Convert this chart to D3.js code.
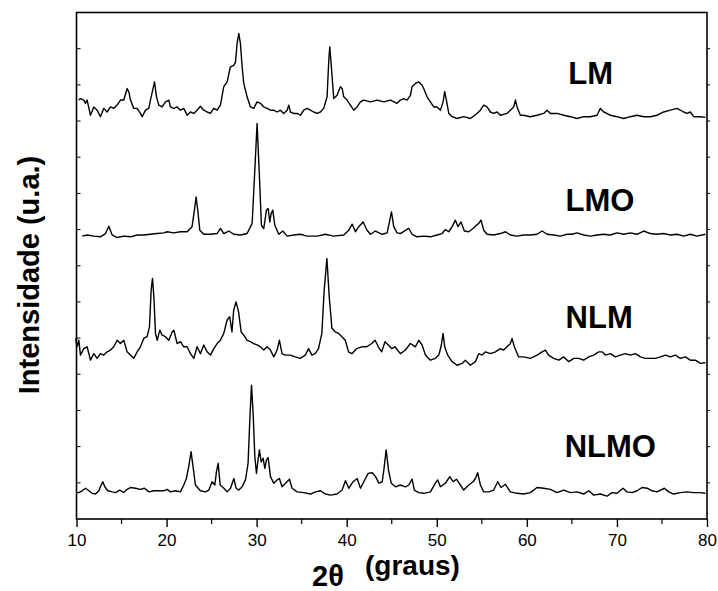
<!DOCTYPE html>
<html>
<head>
<meta charset="utf-8">
<script src="https://cdn.jsdelivr.net/npm/d3@7.9.0/dist/d3.min.js"></script>
<style>
  body { margin: 0; background: #fff; }
  svg { display: block; font-family: Arial, "Liberation Sans", sans-serif; }
</style>
</head>
<body>
<svg id="chart" width="718" height="591"></svg>
<script>
// XRD patterns, 2theta (graus) vs intensity (u.a.), traces already stacked
const sampleNames = ["LM", "LMO", "NLM", "NLMO"];
const xTicks = [10, 20, 30, 40, 50, 60, 70, 80];

const lmData = [
  [10.26,11.58],[10.44,11.62],[10.81,11.58],[11.0,11.49],[11.18,11.58],[11.55,11.16],[11.92,11.39],
  [12.29,11.30],[12.66,11.12],[13.03,11.35],[13.40,11.25],[13.77,11.39],[14.14,11.35],[14.51,11.44],
  [14.88,11.58],[15.25,11.58],[15.62,11.90],[15.81,11.81],[15.99,11.58],[16.36,11.35],[16.73,11.35],
  [17.10,11.21],[17.29,11.12],[17.66,11.30],[18.03,11.35],[18.21,11.58],[18.66,12.08],[18.88,11.67],
  [19.14,11.44],[19.51,11.39],[19.88,11.53],[20.25,11.58],[20.43,11.39],[20.80,11.35],[21.17,11.39],
  [21.54,11.30],[21.91,11.35],[22.28,11.16],[22.65,11.25],[23.02,11.21],[23.39,11.30],[23.76,11.41],
  [24.13,11.30],[24.50,11.25],[24.87,11.21],[25.24,11.35],[25.61,11.30],[25.98,11.44],[26.35,11.95],
  [26.72,12.08],[27.09,12.50],[27.46,12.54],[27.65,12.63],[27.83,13.14],[28.02,13.42],[28.20,13.14],
  [28.39,12.50],[28.57,12.04],[28.94,11.67],[29.31,11.39],[29.68,11.35],[30.05,11.53],[30.42,11.49],
  [30.79,11.39],[31.16,11.35],[31.53,11.30],[31.90,11.30],[32.27,11.25],[32.64,11.30],[33.01,11.21],
  [33.38,11.30],[33.57,11.44],[33.75,11.25],[34.12,11.21],[34.49,11.21],[34.86,11.16],[35.23,11.30],
  [35.60,11.35],[35.97,11.30],[36.34,11.25],[36.71,11.21],[37.08,11.25],[37.45,11.35],[37.82,11.67],
  [38.01,12.68],[38.12,13.05],[38.27,12.59],[38.56,11.62],[38.93,11.71],[39.30,11.95],[39.49,11.90],
  [39.67,11.67],[40.04,11.58],[40.41,11.44],[40.78,11.30],[41.15,11.39],[41.52,11.53],[41.89,11.58],
  [42.63,11.53],[43.37,11.58],[44.11,11.53],[44.86,11.58],[45.59,11.49],[45.96,11.58],[46.33,11.62],
  [46.70,11.58],[47.07,11.71],[47.26,11.95],[47.63,12.04],[48.00,12.08],[48.37,11.99],[48.55,11.90],
  [48.92,11.67],[49.29,11.53],[49.66,11.39],[50.03,11.39],[50.40,11.30],[50.70,11.53],[50.88,11.81],
  [51.07,11.58],[51.33,11.21],[51.70,11.12],[52.25,11.07],[52.99,11.12],[53.73,11.07],[54.47,11.21],
  [54.84,11.30],[55.21,11.44],[55.58,11.39],[55.95,11.25],[56.32,11.21],[56.69,11.25],[57.06,11.16],
  [57.80,11.21],[58.17,11.30],[58.54,11.39],[58.73,11.58],[58.91,11.39],[59.28,11.16],[59.65,11.16],
  [60.39,11.12],[61.13,11.16],[61.87,11.21],[62.24,11.30],[62.61,11.21],[63.35,11.21],[64.09,11.16],
  [64.83,11.12],[65.57,11.07],[66.31,11.12],[67.05,11.12],[67.79,11.16],[68.16,11.35],[68.53,11.25],
  [69.27,11.16],[70.01,11.12],[70.75,11.07],[71.49,11.12],[72.23,11.16],[72.97,11.12],[73.71,11.12],
  [74.45,11.16],[75.19,11.25],[75.93,11.30],[76.67,11.35],[77.41,11.25],[77.78,11.21],[78.15,11.25],
  [78.52,11.12],[79.26,11.12],[79.82,11.10]
];

const lmoData = [
  [10.63,7.82],[11.18,7.85],[11.92,7.82],[12.66,7.80],[13.22,7.89],[13.59,8.09],[13.96,7.85],
  [14.51,7.78],[15.25,7.82],[15.99,7.80],[16.73,7.85],[17.47,7.85],[18.21,7.87],[18.95,7.89],
  [19.69,7.91],[20.06,7.94],[20.80,7.91],[21.54,7.94],[22.28,7.94],[22.83,8.08],[23.09,8.54],
  [23.28,8.90],[23.46,8.54],[23.69,7.98],[24.13,7.87],[24.87,7.87],[25.61,7.89],[25.98,8.03],
  [26.35,7.89],[26.91,7.96],[27.46,7.87],[28.21,7.85],[28.94,7.89],[29.50,8.17],[29.76,9.46],
  [30.05,10.93],[30.31,9.46],[30.53,8.12],[30.79,8.03],[31.09,8.54],[31.28,8.58],[31.46,8.21],
  [31.61,8.44],[31.79,8.54],[32.02,8.12],[32.46,7.87],[32.90,7.96],[33.38,7.82],[34.12,7.85],
  [34.86,7.87],[35.60,7.82],[36.71,7.82],[37.63,7.87],[38.56,7.82],[39.67,7.85],[40.22,7.98],
  [40.60,8.15],[40.97,7.94],[41.34,8.08],[41.82,8.21],[42.26,7.98],[42.63,7.87],[43.19,7.96],
  [43.93,7.87],[44.49,7.91],[44.78,8.26],[44.97,8.49],[45.22,8.08],[45.59,7.91],[45.96,7.89],
  [46.52,7.98],[46.89,8.03],[47.26,7.87],[47.81,7.80],[48.55,7.82],[49.29,7.80],[50.03,7.85],
  [50.59,7.89],[50.96,8.00],[51.33,7.94],[51.70,8.08],[52.07,8.26],[52.36,8.08],[52.69,8.21],
  [53.06,7.96],[53.55,7.94],[54.03,8.03],[54.40,8.12],[54.66,8.17],[54.91,8.26],[55.21,7.98],
  [55.58,7.87],[56.32,7.85],[57.06,7.89],[57.62,7.94],[58.17,7.85],[58.91,7.82],[59.65,7.85],
  [60.39,7.85],[61.13,7.87],[61.69,7.96],[62.24,7.87],[62.98,7.85],[63.72,7.82],[64.46,7.87],
  [65.02,7.87],[65.57,7.91],[66.31,7.85],[67.05,7.82],[67.79,7.85],[68.53,7.87],[69.27,7.85],
  [70.01,7.91],[70.75,7.87],[71.49,7.91],[72.23,7.87],[72.97,7.96],[73.71,7.89],[74.45,7.87],
  [75.19,7.89],[75.93,7.85],[76.67,7.87],[77.41,7.82],[78.15,7.87],[78.89,7.82],[79.82,7.87]
];

const nlmData = [
  [9.90,4.99],[10.07,4.76],[10.26,4.94],[10.44,4.53],[10.81,4.71],[11.18,4.76],[11.55,4.39],
  [11.92,4.57],[12.29,4.44],[12.66,4.57],[13.03,4.53],[13.40,4.62],[13.77,4.67],[14.14,4.76],
  [14.51,4.94],[14.88,4.85],[15.25,4.94],[15.62,4.62],[15.99,4.53],[16.36,4.44],[16.73,4.62],
  [17.10,4.76],[17.47,4.99],[17.84,5.04],[18.10,5.31],[18.29,6.33],[18.44,6.65],[18.59,6.14],
  [18.77,5.13],[18.96,4.94],[19.25,5.22],[19.51,5.08],[19.88,5.04],[20.25,4.94],[20.62,5.17],
  [20.81,5.22],[21.17,4.85],[21.54,4.90],[21.91,4.76],[22.28,4.76],[22.65,4.57],[23.02,4.44],
  [23.39,4.76],[23.76,4.57],[24.13,4.81],[24.50,4.62],[24.87,4.53],[25.24,4.71],[25.61,4.85],
  [25.98,4.94],[26.35,5.13],[26.72,5.50],[27.01,5.59],[27.26,5.17],[27.45,5.77],[27.71,6.00],
  [28.00,5.72],[28.28,5.17],[28.57,5.08],[28.94,4.94],[29.31,4.90],[29.68,4.85],[30.05,4.81],
  [30.42,4.76],[30.79,4.67],[31.16,4.76],[31.53,4.67],[31.90,4.48],[32.27,4.67],[32.53,4.94],
  [32.82,4.57],[33.18,4.53],[33.73,4.53],[34.29,4.48],[34.84,4.44],[35.40,4.53],[35.77,4.71],
  [36.13,4.53],[36.50,4.57],[36.87,4.71],[37.24,5.13],[37.50,6.33],[37.80,7.20],[38.06,6.14],
  [38.36,5.27],[38.73,5.17],[39.10,5.13],[39.47,5.04],[39.84,4.94],[40.20,4.62],[40.57,4.57],
  [41.12,4.71],[41.67,4.76],[42.23,4.76],[42.78,4.85],[43.15,4.94],[43.51,4.76],[43.88,4.62],
  [44.25,4.90],[44.62,4.81],[44.99,4.71],[45.36,4.76],[45.96,4.57],[46.52,4.67],[47.07,4.85],
  [47.63,4.76],[48.00,4.94],[48.37,4.81],[48.74,4.53],[49.29,4.39],[49.85,4.44],[50.22,4.53],
  [50.47,4.76],[50.70,5.13],[50.88,4.76],[51.21,4.53],[51.70,4.35],[52.25,4.25],[52.81,4.30],
  [53.17,4.39],[53.73,4.25],[54.29,4.35],[54.66,4.57],[55.02,4.53],[55.40,4.62],[55.95,4.57],
  [56.51,4.62],[57.06,4.71],[57.43,4.67],[57.80,4.76],[58.17,4.85],[58.36,4.99],[58.61,4.76],
  [59.09,4.48],[59.65,4.48],[60.39,4.44],[61.13,4.53],[61.69,4.62],[62.06,4.67],[62.42,4.53],
  [62.98,4.44],[63.54,4.39],[64.09,4.48],[64.65,4.35],[65.21,4.44],[65.76,4.44],[66.31,4.39],
  [66.87,4.48],[67.42,4.53],[67.98,4.62],[68.35,4.62],[68.72,4.53],[69.27,4.57],[69.83,4.48],
  [70.38,4.53],[70.94,4.57],[71.49,4.53],[72.05,4.57],[72.60,4.48],[73.16,4.44],[73.71,4.44],
  [74.27,4.44],[74.82,4.48],[75.38,4.53],[75.93,4.48],[76.49,4.53],[77.04,4.44],[77.59,4.48],
  [78.15,4.39],[78.71,4.39],[79.26,4.30],[79.82,4.32]
];

const nlmoData = [
  [10.00,0.73],[10.26,0.73],[10.63,0.78],[11.00,0.85],[11.37,0.78],[11.74,0.71],[12.11,0.69],
  [12.48,0.78],[12.74,0.94],[12.92,1.03],[13.14,0.89],[13.48,0.78],[13.96,0.75],[14.33,0.73],
  [14.81,0.80],[15.25,0.73],[15.62,0.82],[15.99,0.87],[16.55,0.85],[17.10,0.82],[17.55,0.85],
  [18.03,0.75],[18.58,0.78],[19.14,0.78],[19.69,0.78],[20.06,0.82],[20.43,0.75],[20.99,0.78],
  [21.54,0.75],[21.91,0.94],[22.20,1.12],[22.46,1.45],[22.72,1.86],[22.94,1.45],[23.20,0.94],
  [23.75,0.78],[24.31,0.75],[24.69,0.80],[25.06,1.03],[25.36,0.94],[25.54,1.31],[25.73,1.54],
  [25.95,0.94],[26.36,0.85],[26.73,0.75],[27.10,0.85],[27.47,1.12],[27.72,0.85],[28.02,0.80],
  [28.39,0.89],[28.76,1.08],[29.05,1.54],[29.24,2.73],[29.43,3.70],[29.61,2.92],[29.80,1.72],
  [29.98,1.26],[30.13,1.58],[30.31,1.91],[30.50,1.58],[30.72,1.68],[30.91,1.40],[31.09,1.63],
  [31.28,1.70],[31.53,1.17],[31.90,0.99],[32.27,1.08],[32.53,1.12],[32.82,0.89],[33.20,0.99],
  [33.64,1.10],[33.94,0.85],[34.49,0.75],[35.23,0.73],[35.97,0.69],[36.53,0.75],[37.08,0.78],
  [37.64,0.69],[38.19,0.66],[38.93,0.69],[39.49,0.80],[39.86,1.06],[40.23,0.85],[40.71,1.03],
  [41.16,1.12],[41.53,0.85],[41.90,1.03],[42.38,1.26],[42.83,1.28],[43.20,1.17],[43.57,0.99],
  [43.94,1.03],[44.12,1.35],[44.38,1.91],[44.64,1.35],[44.94,0.99],[45.42,0.89],[45.96,0.94],
  [46.52,0.89],[46.89,0.94],[47.26,1.10],[47.51,0.80],[48.00,0.73],[48.55,0.71],[49.29,0.75],
  [49.85,0.99],[50.10,1.08],[50.40,0.89],[50.96,0.99],[51.44,1.17],[51.81,1.03],[52.18,1.10],
  [52.62,0.94],[52.99,0.80],[53.55,0.94],[54.03,1.03],[54.29,1.12],[54.54,1.28],[54.84,0.94],
  [55.21,0.75],[55.77,0.75],[56.32,0.80],[56.77,1.03],[57.13,0.87],[57.62,0.96],[58.17,0.75],
  [58.91,0.71],[59.65,0.69],[60.39,0.73],[61.13,0.87],[61.87,0.85],[62.61,0.82],[63.35,0.73],
  [64.09,0.80],[64.83,0.73],[65.57,0.75],[66.31,0.69],[66.87,0.78],[67.42,0.66],[68.16,0.69],
  [68.90,0.63],[69.45,0.73],[70.01,0.71],[70.68,0.85],[71.12,0.75],[71.68,0.73],[72.23,0.78],
  [72.79,0.87],[73.35,0.85],[73.90,0.78],[74.45,0.75],[75.27,0.85],[75.75,0.75],[76.30,0.69],
  [77.04,0.73],[77.78,0.75],[78.52,0.73],[79.26,0.73],[79.82,0.71]
];

const series = [lmData, lmoData, nlmData, nlmoData];
// where each sample name sits: [2theta, intensity]
const labelAt = [[64.6, 12.03], [64.3, 8.52], [64.3, 5.29], [64.2, 1.70]];

const svg = d3.select("#chart");
const margin = { top: 12.5, right: 11, bottom: 72, left: 76.5 };
const W = 718, H = 591;

const x = d3.scaleLinear().domain([10, 80]).range([margin.left, W - margin.right]);
const y = d3.scaleLinear().domain([0, 14]).range([H - margin.bottom, margin.top]);

// traces
const line = d3.line().x(d => x(d[0])).y(d => y(d[1]));
series.forEach(s => {
  svg.append("path")
    .attr("d", line(s))
    .attr("fill", "none")
    .attr("stroke", "#000")
    .attr("stroke-width", 1.4)
    .attr("stroke-linejoin", "round");
});

// frame
svg.append("rect")
  .attr("x", x(10)).attr("y", y(14))
  .attr("width", x(80) - x(10)).attr("height", y(0) - y(14))
  .attr("fill", "none").attr("stroke", "#000").attr("stroke-width", 1.6);

// bottom axis: majors every 10, minors at 5
const xAxis = d3.axisBottom(x).tickValues(xTicks).tickSize(8).tickPadding(7);
const gx = svg.append("g").attr("transform", `translate(0,${y(0)})`).call(xAxis);
gx.select(".domain").remove();
gx.selectAll(".tick line").attr("stroke-width", 1.4);
gx.selectAll(".tick text").attr("font-size", 17).attr("fill", "#000")
  .attr("font-family", "Arial, 'Liberation Sans', sans-serif");

const minor = d3.range(15, 80, 10);
svg.append("g").selectAll("line").data(minor).join("line")
  .attr("x1", d => x(d)).attr("x2", d => x(d))
  .attr("y1", y(0)).attr("y2", y(0) + 5)
  .attr("stroke", "#000").attr("stroke-width", 1.2);

// unlabelled intensity ticks
const yT = d3.range(1, 14);
svg.append("g").selectAll("line").data(yT).join("line")
  .attr("x1", x(10)).attr("x2", x(10) + 4)
  .attr("y1", d => y(d)).attr("y2", d => y(d))
  .attr("stroke", "#000").attr("stroke-width", 1);
svg.append("g").selectAll("line").data(yT).join("line")
  .attr("x1", x(80)).attr("x2", x(80) + 3)
  .attr("y1", d => y(d)).attr("y2", d => y(d))
  .attr("stroke", "#000").attr("stroke-width", 1);

// sample names
svg.append("g").selectAll("text").data(sampleNames).join("text")
  .attr("x", (d, i) => x(labelAt[i][0]))
  .attr("y", (d, i) => y(labelAt[i][1]))
  .attr("font-size", 31).attr("font-weight", "bold")
  .text(d => d);

// axis titles
svg.append("text")
  .attr("x", 312).attr("y", 586)
  .attr("font-size", 29).attr("font-weight", "bold")
  .text("2θ");
svg.append("text")
  .attr("x", 365).attr("y", 575)
  .attr("font-size", 28).attr("font-weight", "bold")
  .text("(graus)");

svg.append("text")
  .attr("transform", `translate(39,275) rotate(-90)`)
  .attr("text-anchor", "middle")
  .attr("font-size", 29).attr("font-weight", "bold")
  .text("Intensidade (u.a.)");
</script>
</body>
</html>
